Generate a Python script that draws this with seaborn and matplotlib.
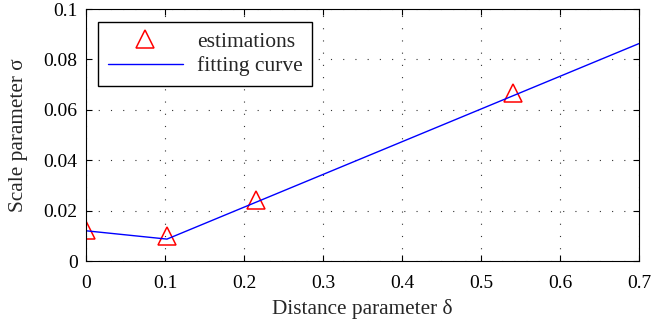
import numpy as np
import pandas as pd
import matplotlib
matplotlib.use("Agg")
import matplotlib.pyplot as plt
import seaborn as sns

# ---- data ----
est_delta = [0.0, 0.1025, 0.215, 0.5405]
est_sigma = [0.0125, 0.0098, 0.0242, 0.0668]

fit_delta = [0.0, 0.1025, 0.7]
fit_sigma = [0.0120, 0.0087, 0.0863]

x_ticks = [0, 0.1, 0.2, 0.3, 0.4, 0.5, 0.6, 0.7]
y_ticks = [0, 0.02, 0.04, 0.06, 0.08, 0.1]
x_labels = ["0", "0.1", "0.2", "0.3", "0.4", "0.5", "0.6", "0.7"]
y_labels = ["0", "0.02", "0.04", "0.06", "0.08", "0.1"]

sns.set_style("ticks")
plt.rcParams["font.family"] = ["Liberation Serif", "DejaVu Serif"]

est_df = pd.DataFrame({"delta": est_delta, "sigma": est_sigma})
fit_df = pd.DataFrame({"delta": fit_delta, "sigma": fit_sigma})

fig = plt.figure(figsize=(6.54, 3.24), dpi=100)
ax = fig.add_axes([0.1315, 0.1944, 0.8455, 0.7776])

sns.lineplot(data=est_df, x="delta", y="sigma", ax=ax, linestyle="none",
             marker="^", markersize=13, markerfacecolor="none",
             markeredgecolor="#ff0000", markeredgewidth=1.1,
             label="estimations")
sns.lineplot(data=fit_df, x="delta", y="sigma", ax=ax, color="#0000ff",
             linewidth=1.0, label="fitting curve")

ax.set_xlim(0, 0.7)
ax.set_ylim(0, 0.1)
ax.set_xticks(x_ticks)
ax.set_xticklabels(x_labels)
ax.set_yticks(y_ticks)
ax.set_yticklabels(y_labels)
ax.tick_params(direction="in", top=True, right=True, labelsize=14,
               length=4, width=0.8, colors="black")
ax.tick_params(axis="x", pad=10)
ax.tick_params(axis="y", pad=6)
ax.grid(True, linestyle=(0, (1, 10)), color="#333333", linewidth=0.8)
for s in ax.spines.values():
    s.set_visible(True)
    s.set_linewidth(0.8)
    s.set_color("black")

ax.set_xlabel("Distance parameter δ", fontsize=15.3, labelpad=5)
ax.set_ylabel("Scale parameter σ", fontsize=15.3, labelpad=11)

leg = ax.legend(loc="upper left", bbox_to_anchor=(0.0217, 0.948),
                fontsize=15.5, frameon=True, fancybox=False, edgecolor="black",
                borderpad=0.45, handlelength=3.5, handletextpad=0.65,
                labelspacing=0.2, borderaxespad=0)
leg.get_frame().set_linewidth(1.0)
leg.get_frame().set_alpha(1)

fig.savefig("out.png", dpi=100)
